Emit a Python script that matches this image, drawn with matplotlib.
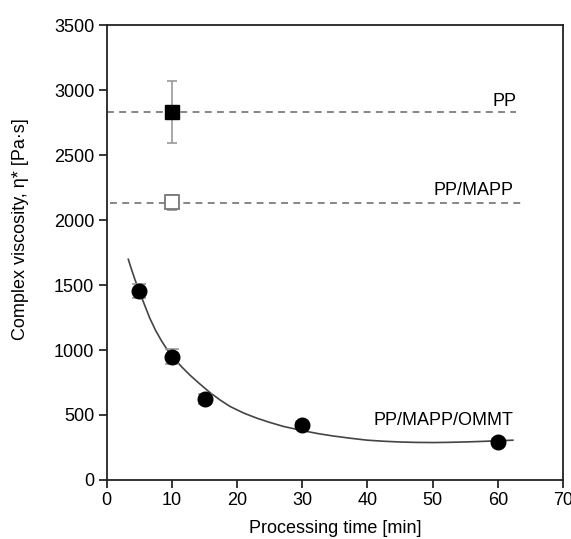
import numpy as np
import matplotlib
matplotlib.use("Agg")
import matplotlib.pyplot as plt

plt.rcParams["font.family"] = ["Liberation Sans", "DejaVu Sans"]
plt.rcParams["font.size"] = 13

# --- data ---
pp_t, pp_eta, pp_err = [10], [2833], [240]
mapp_t, mapp_eta, mapp_err = [10], [2136], [60]
pp_level, mapp_level = 2833, 2128

omm_t = [5, 10, 15, 30, 60]
omm_eta = [1456, 949, 621, 423, 295]
omm_err = [55, 55, 40, 25, 20]

# fitted trend line as drawn in the figure
fit_t = [3.3, 3.7, 4.3, 5.0, 5.85, 6.6, 7.5, 8.4, 9.2, 10.05, 11.5, 12.8, 14.3,
         15.9, 17.4, 18.9, 21.0, 23.0, 25.0, 27.1, 30.2, 32.5, 34.8, 37.4, 40.0,
         42.5, 45.1, 47.6, 50.2, 52.8, 55.3, 57.7, 60.0, 62.3]
fit_eta = [1698, 1635, 1545, 1450, 1340, 1245, 1150, 1070, 1008, 950, 870, 805, 738,
           670, 615, 566, 515, 476, 443, 412, 378, 356, 338, 321, 306,
           298, 292, 289, 288, 290, 293, 297, 302, 306]

fig = plt.figure(figsize=(5.71, 5.39), dpi=100)
ax = fig.add_axes([0.187, 0.1095, 0.799, 0.844])

dash = (0, (4.5, 3.5))
ax.plot([0, 62.8], [pp_level, pp_level], ls=dash, color="#666666", lw=1.1)
ax.plot([0.5, 63.5], [mapp_level, mapp_level], ls=dash, color="#666666", lw=1.1)
ax.plot(fit_t, fit_eta, color="#444444", lw=1.2, solid_joinstyle="round")

ax.errorbar(pp_t, pp_eta, yerr=pp_err, fmt="s", color="black", ms=9.5,
            ecolor="#999999", elinewidth=1.2, capsize=3.6, capthick=1.2, zorder=5)
ax.errorbar(mapp_t, mapp_eta, yerr=mapp_err, fmt="s", mfc="white", mec="#777777", ms=9.5,
            mew=1.3, ecolor="#999999", elinewidth=1.2, capsize=3.6, capthick=1.2, zorder=5)
ax.errorbar(omm_t, omm_eta, yerr=omm_err, fmt="o", color="black", ms=10.5,
            ecolor="#999999", elinewidth=1.2, capsize=5.0, capthick=1.2, zorder=5)

ax.text(62.8, 2877, "PP", ha="right", va="baseline")
ax.text(62.4, 2192, "PP/MAPP", ha="right", va="baseline")
ax.text(62.4, 423, "PP/MAPP/OMMT", ha="right", va="baseline")

ax.set_xlim(0, 70)
ax.set_ylim(0, 3500)
ax.set_xticks(range(0, 71, 10))
ax.set_yticks(range(0, 3501, 500))
ax.tick_params(direction="out", length=6, width=1.1, pad=3, top=False, right=False)
for s in ax.spines.values():
    s.set_linewidth(1.3)
    s.set_color("#222222")
ax.set_xlabel("Processing time [min]")
ax.set_ylabel("Complex viscosity, η* [Pa·s]")
ax.xaxis.set_label_coords(0.5, -0.088)
ax.yaxis.set_label_coords(-0.171, 0.552)
ax.xaxis.label.set_va("top")

fig.savefig("out.png", dpi=100)
